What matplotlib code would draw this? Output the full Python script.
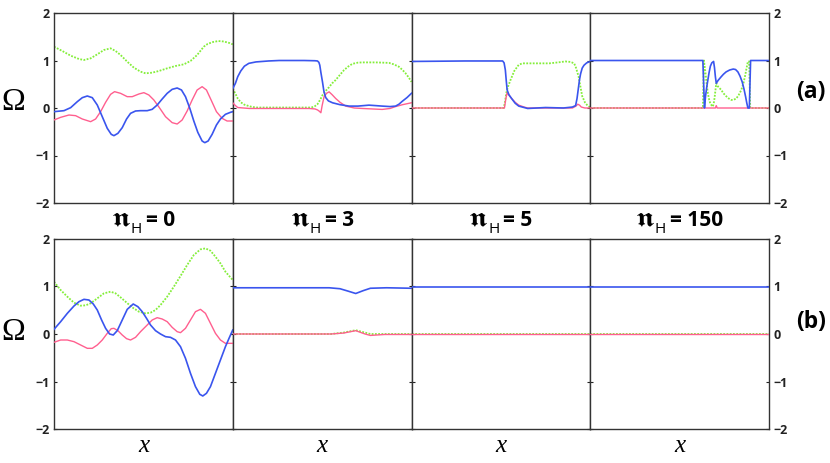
import numpy as np
import matplotlib
matplotlib.use("Agg")
import matplotlib.pyplot as plt
from matplotlib.transforms import IdentityTransform

plt.rcParams['font.family'] = ['Open Sans', 'DejaVu Sans']

BLUE = '#3a55ee'
PINK = '#ff5f8f'
GREEN = '#84ee3a'

# ---------------- data: row (a) ----------------
# panel nH = 0 (read in 3x zoom pixel units, converted below)
a0_blue_zx = [0, 30, 50, 70, 85, 100, 115, 130, 145, 160, 172, 180, 192, 205, 218, 230, 245, 260, 280, 295, 310, 325, 340, 355, 370, 383, 395, 408, 420, 432, 445, 453, 463, 475, 488, 500, 515, 530, 537]
a0_blue_zy = [200, 197, 188, 170, 158, 153, 158, 180, 215, 250, 268, 272, 265, 248, 222, 205, 198, 197, 197, 193, 180, 162, 145, 133, 129, 135, 155, 190, 228, 262, 288, 293, 288, 268, 240, 222, 208, 202, 200]
a0_pink_zx = [0, 20, 45, 65, 85, 110, 125, 140, 155, 170, 182, 200, 220, 235, 255, 270, 285, 300, 318, 335, 355, 370, 385, 400, 415, 430, 445, 458, 472, 488, 505, 520, 537]
a0_pink_zy = [225, 217, 210, 212, 222, 230, 222, 200, 172, 148, 140, 145, 155, 155, 147, 143, 150, 165, 190, 215, 233, 237, 225, 198, 165, 135, 125, 135, 165, 200, 220, 228, 228]
a0_green_zx = [0, 25, 50, 75, 90, 110, 130, 150, 170, 185, 200, 220, 240, 260, 275, 295, 315, 340, 365, 390, 410, 430, 450]
a0_green_zy = [5, 18, 32, 42, 45, 40, 28, 15, 10, 18, 30, 50, 68, 80, 85, 83, 78, 70, 63, 58, 48, 30, 5]
a0_green_tail_x = [.86, .89, .92, .95, .98, 1.0]
a0_green_tail_y = [1.35, 1.39, 1.41, 1.40, 1.37, 1.34]

a1_blue_x = [0, .015, .028, .045, .065, .09, .13, .2, .26, .40, .46, .474, .482, .487, .493, .502, .51, .52, .535, .558, .6, .651, .70, .762, .80, .836, .88, .911, .93, .948, .975, 1.0]
a1_blue_y = [.41, .52, .66, .78, .88, .94, .97, .99, 1.0, 1.0, .995, .99, .96, .90, .75, .55, .35, .22, .15, .11, .07, .04, .04, .06, .05, .04, .03, .04, .08, .14, .22, .31]
a1_pink_x = [0, .015, .028, .093, .428, .46, .474, .485, .493, .50, .511, .525, .539, .556, .576, .60, .632, .68, .725, .78, .836, .88, .911, .95, 1.0]
a1_pink_y = [.11, .05, .01, -.01, -.01, -.02, -.04, -.07, -.10, .05, .24, .31, .34, .28, .20, .12, .04, .0, -.01, -.02, -.03, -.01, .03, .07, .11]
a1_green_x = [0, .015, .028, .045, .065, .1, .13, .44, .46, .474, .49, .502, .52, .539, .556, .576, .60, .623, .645, .669, .70, .725, .80, .874, .90, .929, .95, .967, .985, 1.0]
a1_green_y = [.41, .30, .20, .12, .07, .03, .01, .01, .04, .08, .18, .27, .36, .44, .52, .59, .70, .80, .87, .93, .955, .96, .96, .95, .92, .87, .80, .73, .64, .55]

a2_blue_x = [0, .3, .51, .518, .525, .53, .535, .545, .56, .58, .60, .65, .75, .85, .90, .918, .926, .933, .94, .946, .955, .965, .98, 1.0]
a2_blue_y = [.98, .99, .99, .95, .80, .58, .38, .28, .20, .10, .04, -.01, .01, 0, .02, .05, .2, .40, .60, .72, .84, .90, .95, .98]
a2_pink_x = [0, .52, .528, .535, .545, .56, .58, .60, .63, .65, .90, .92, .93, .94, .95, .97, 1.0]
a2_pink_y = [0, 0, .2, .32, .27, .20, .12, .06, .02, 0, 0, .04, .08, .06, .02, 0, 0]
a2_green_x = [0, .515, .522, .53, .54, .554, .575, .60, .62, .77, .82, .86, .89, .91, .92, .935, .945, .955, .97, .985, 1.0]
a2_green_y = [0, 0, .1, .31, .45, .59, .78, .91, .94, .94, .96, .98, .97, .94, .85, .66, .45, .25, .12, .05, .01]

a3_blue_x = [0, .630, .639, .645, .652, .658, .665, .672, .68, .69, .695, .700, .705, .715, .733, .745, .760, .78, .800, .813, .826, .838, .850, .860, .869, .876, .882, .890, .897, 1.0]
a3_blue_y = [1.0, 1.0, 0, .25, .45, .59, .75, .88, .95, .98, .85, .66, .52, .58, .66, .71, .76, .80, .82, .81, .76, .67, .55, .40, .24, .10, 0, 0, 1.0, 1.0]
a3_pink_x = [0, .700, .705, .710, 1.0]
a3_pink_y = [0, 0, .05, 0, 0]
a3_green_x = [0, .630, .636, .640, .645, .650, .658, .665, .671, .68, .686, .691, .695, .70, .705, .715, .733, .745, .760, .775, .789, .80, .817, .83, .845, .857, .867, .875, .882, .889, .895, 1.0]
a3_green_y = [0, 0, 1.0, .88, .73, .55, .31, .18, .10, .05, .03, .10, .20, .36, .52, .45, .38, .31, .25, .20, .17, .17, .20, .27, .38, .52, .69, .85, .98, .98, 0, 0]

# ---------------- data: row (b) ----------------
b0_blue_zx = [0, 20, 40, 60, 75, 90, 105, 118, 130, 143, 155, 167, 178, 190, 205, 220, 238, 252, 265, 278, 290, 305, 320, 335, 350, 365, 380, 395, 410, 425, 438, 447, 458, 470, 485, 500, 515, 528, 537]
b0_blue_zy = [268, 245, 220, 198, 185, 178, 180, 192, 210, 240, 265, 282, 285, 272, 240, 208, 192, 200, 215, 235, 255, 272, 282, 290, 292, 300, 320, 355, 400, 440, 463, 468, 460, 440, 400, 360, 320, 290, 270]
b0_pink_zx = [0, 20, 40, 60, 80, 100, 115, 130, 145, 160, 172, 180, 192, 205, 218, 230, 245, 260, 280, 295, 310, 325, 340, 355, 370, 380, 395, 410, 425, 440, 455, 470, 485, 500, 515, 537]
b0_pink_zy = [307, 300, 300, 305, 315, 325, 325, 315, 300, 280, 266, 265, 272, 285, 296, 300, 292, 275, 255, 240, 233, 237, 245, 262, 275, 278, 265, 240, 215, 208, 220, 250, 280, 300, 310, 310]
b0_green_zx = [0, 20, 40, 60, 80, 95, 110, 130, 150, 170, 185, 200, 215, 235, 255, 275, 290, 305, 320, 340, 360, 380, 400, 420, 440, 455, 470, 485, 500, 515, 537]
b0_green_zy = [125, 150, 170, 188, 197, 196, 190, 175, 160, 155, 160, 172, 185, 202, 215, 220, 218, 210, 195, 170, 140, 108, 75, 45, 28, 25, 32, 50, 70, 95, 120]

b1_blue_x = [0, .30, .54, .60, .645, .688, .73, .77, .86, 1.0]
b1_blue_y = [.97, .97, .97, .95, .90, .85, .91, .96, .97, .96]
b1_pink_x = [0, .55, .62, .688, .74, .77, .85, 1.0]
b1_pink_y = [0, 0, .02, .07, .0, -.03, -.01, -.01]
b1_green_x = [0, .55, .62, .688, .74, .77, 1.0]
b1_green_y = [0, 0, .03, .08, .03, 0, 0]

b2_blue_x = [0, 1.0]
b2_blue_y = [.99, .99]
b2_pink_x = [0, 1.0]
b2_pink_y = [0, 0]
b2_green_x = [0, 1.0]
b2_green_y = [0, 0]

b3_blue_x = [0, 1.0]
b3_blue_y = [.99, .99]
b3_pink_x = [0, 1.0]
b3_pink_y = [0, 0]
b3_green_x = [0, 1.0]
b3_green_y = [0, 0]

nh_values = ['0', '3', '5', '150']
yticks = [-2, -1, 0, 1, 2]


def conv(zx, zy, zero, unit=142.5, width=537.0):
    return [v / width for v in zx], [(zero - v) / unit for v in zy]


a0_blue_x, a0_blue_y = conv(a0_blue_zx, a0_blue_zy, 189)
a0_pink_x, a0_pink_y = conv(a0_pink_zx, a0_pink_zy, 189)
a0_green_x, a0_green_y = conv(a0_green_zx, a0_green_zy, 189)
a0_green_x += a0_green_tail_x
a0_green_y += a0_green_tail_y
b0_blue_x, b0_blue_y = conv(b0_blue_zx, b0_blue_zy, 282, 143)
b0_pink_x, b0_pink_y = conv(b0_pink_zx, b0_pink_zy, 282, 143)
b0_green_x, b0_green_y = conv(b0_green_zx, b0_green_zy, 282, 143)

rows = [
    [(a0_blue_x, a0_blue_y, a0_pink_x, a0_pink_y, a0_green_x, a0_green_y),
     (a1_blue_x, a1_blue_y, a1_pink_x, a1_pink_y, a1_green_x, a1_green_y),
     (a2_blue_x, a2_blue_y, a2_pink_x, a2_pink_y, a2_green_x, a2_green_y),
     (a3_blue_x, a3_blue_y, a3_pink_x, a3_pink_y, a3_green_x, a3_green_y)],
    [(b0_blue_x, b0_blue_y, b0_pink_x, b0_pink_y, b0_green_x, b0_green_y),
     (b1_blue_x, b1_blue_y, b1_pink_x, b1_pink_y, b1_green_x, b1_green_y),
     (b2_blue_x, b2_blue_y, b2_pink_x, b2_pink_y, b2_green_x, b2_green_y),
     (b3_blue_x, b3_blue_y, b3_pink_x, b3_pink_y, b3_green_x, b3_green_y)],
]

fig = plt.figure(figsize=(8.30, 4.63), dpi=100)
left = 54 / 830
pw = 715 / 830 / 4
row_bottoms = [1 - 203 / 463, 1 - 429.3 / 463]
row_h = [190 / 463, 190.6 / 463]

for r in range(2):
    for c in range(4):
        ax = fig.add_axes([left + c * pw, row_bottoms[r], pw, row_h[r]])
        bx, by, px, py, gx, gy = rows[r][c]
        ax.plot(gx, gy, color=GREEN, lw=1.3, ls=(0, (1, 0.8)), zorder=2)
        ax.plot(px, py, color=PINK, lw=1.0, zorder=3)
        ax.plot(bx, by, color=BLUE, lw=1.2, zorder=4)
        ax.set_xlim(0, 1)
        ax.set_ylim(-2, 2)
        ax.set_yticks(yticks)
        ax.set_xticks([])
        ax.tick_params(axis='y', direction='in', length=2.5, width=0.8,
                       left=True, right=True, labelleft=(c == 0), labelright=(c == 3),
                       labelsize=9, pad=3, colors='#222222')
        for lab in ax.get_yticklabels():
            lab.set_fontweight('bold')
        for s in ax.spines.values():
            s.set_color('#333333')
            s.set_linewidth(1.0)
        if r == 1:
            ax.set_xlabel('x', fontsize=18, family='Liberation Serif', style='italic', labelpad=4)

# panel titles  "𝖓_H = value" built from pieces, measured for centring
ident = IdentityTransform()
renderer = fig.canvas.get_renderer()
H_PX = 463
for c in range(4):
    cx = 54 + (c + 0.5) * 178.75
    t1 = fig.text(0, 0, '\U0001D593', family=['STIXGeneral', 'DejaVu Sans'], fontweight='bold',
                  fontsize=20, transform=ident, va='baseline', ha='left')
    t2 = fig.text(0, 0, 'H', fontsize=11, transform=ident, va='baseline', ha='left')
    t3 = fig.text(0, 0, '= ' + nh_values[c], fontsize=15, fontweight='bold',
                  transform=ident, va='baseline', ha='left')
    w1, w2, w3 = [t.get_window_extent(renderer).width for t in (t1, t2, t3)]
    g1, g2 = -0.5, 4.0
    total = w1 + g1 + w2 + g2 + w3
    x0 = cx - total / 2
    t1.set_position((x0, H_PX - 225.5))
    t2.set_position((x0 + w1 + g1, H_PX - 232.7))
    t3.set_position((x0 + w1 + g1 + w2 + g2, H_PX - 225.5))

fig.text(0.016, 1 - 102 / 463, 'Ω', family='Liberation Serif', fontsize=23, ha='center', va='center')
fig.text(0.016, 1 - 332 / 463, 'Ω', family='Liberation Serif', fontsize=23, ha='center', va='center')
fig.text(0.977, 1 - 92 / 463, '(a)', fontsize=16.5, fontweight='bold', ha='center', va='center')
fig.text(0.977, 1 - 322 / 463, '(b)', fontsize=16.5, fontweight='bold', ha='center', va='center')

fig.savefig('out.png', dpi=100)
